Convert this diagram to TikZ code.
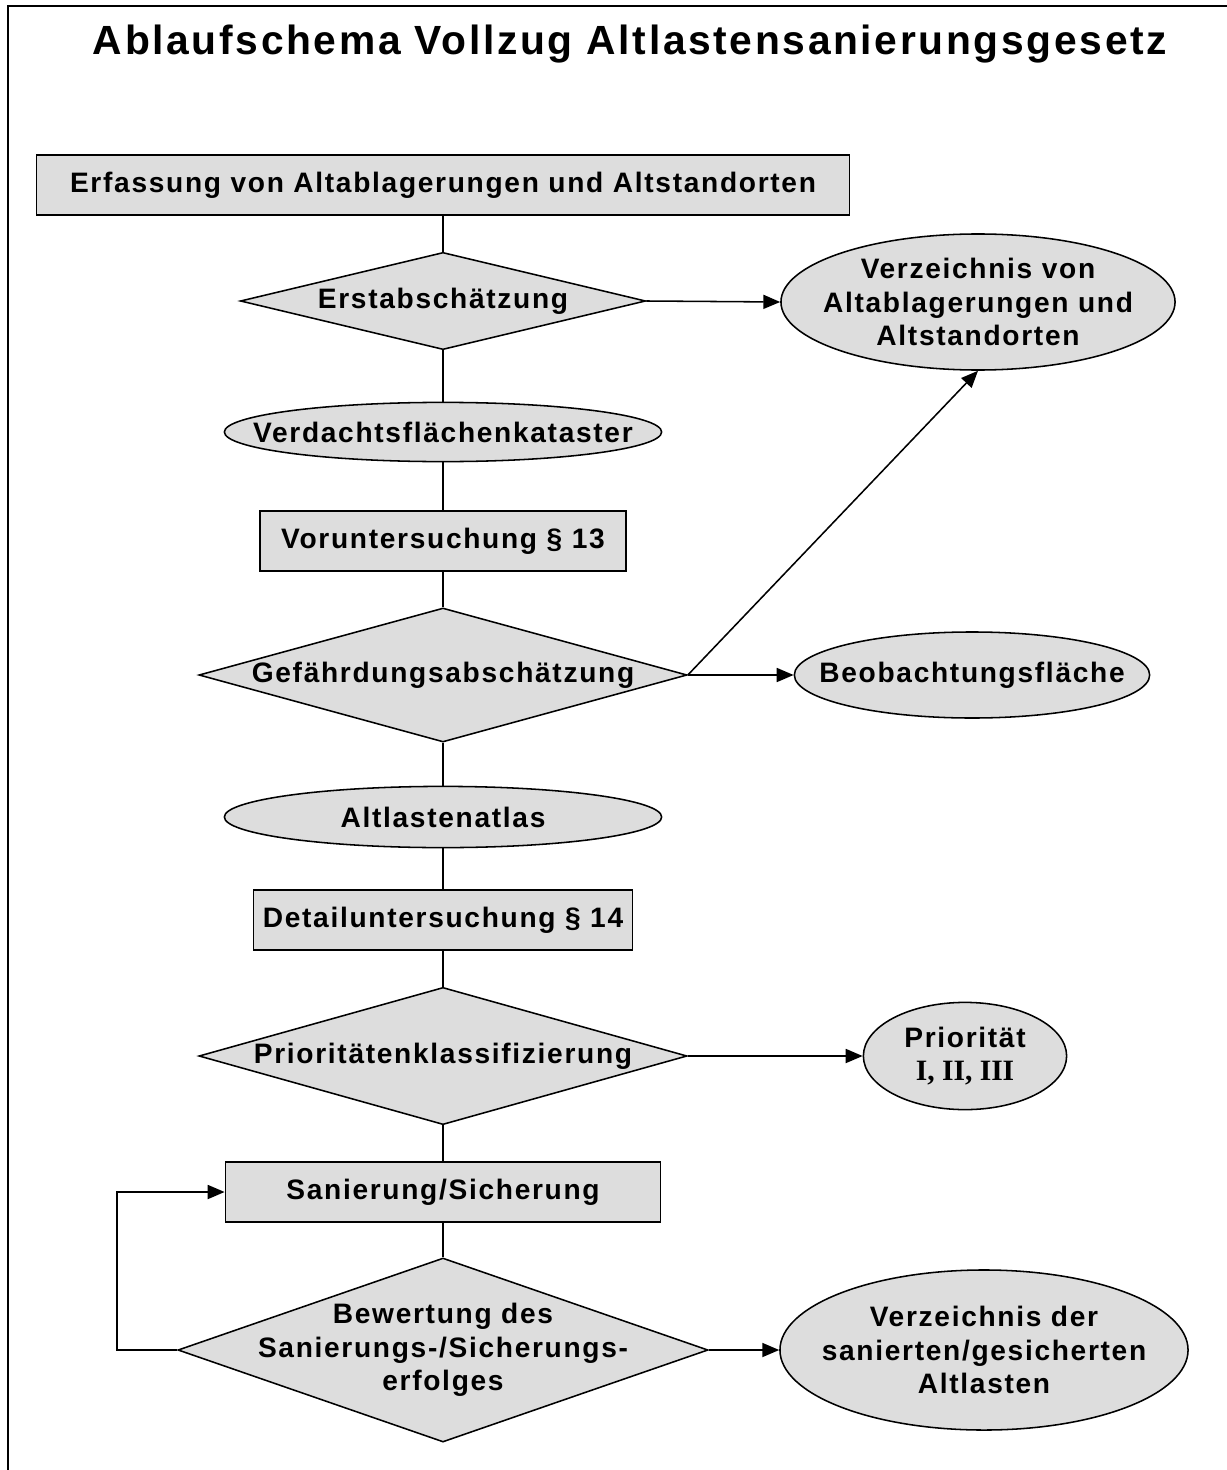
\documentclass[tikz,border=0pt]{standalone}
\usepackage{fontspec}
\setmainfont{Liberation Sans}
\newfontfamily\labelfont[LetterSpace=6]{Liberation Sans}
\newfontfamily\titlefont[LetterSpace=6.5]{Liberation Sans}
\newfontfamily\romanfont{Liberation Serif}
\usetikzlibrary{shapes.geometric,arrows.meta}
\definecolor{shapegrey}{RGB}{221,221,221}

\begin{document}
\begin{tikzpicture}[x=0.025cm, y=-0.025cm,
    every node/.style={font=\labelfont\bfseries\fontsize{20}{23.8}\selectfont, align=center},
    box/.style={rectangle, draw, line width=1.1pt, fill=shapegrey, minimum height=1.5cm},
    oval/.style={ellipse, draw, line width=1.1pt, fill=shapegrey, inner sep=-30pt},
    decision/.style={diamond, draw, line width=1.1pt, fill=shapegrey, inner sep=-30pt, aspect=3.6},
    link/.style={line width=1.1pt},
    arr/.style={-{Triangle[length=12pt, width=10pt]}, line width=1.1pt}
]
    \useasboundingbox (0,0) rectangle (1226,1470);
    \draw[line width=2pt] (8,1480) -- (8,6) -- (1236,6);

    \node[font=\titlefont\bfseries\fontsize{29}{32}\selectfont] (title) at (630,44)
        {Ablaufschema Vollzug Altlastensanierungsgesetz};

    % main column
    \node[box, minimum width=20.33cm] (erfassung) at (443,185) {Erfassung von Altablagerungen und Altstandorten};
    \node[decision, minimum width=10.13cm, minimum height=2.43cm] (erstab) at (443,301) {Erstabschätzung};
    \node[oval, minimum width=10.93cm, minimum height=1.48cm] (verdacht) at (443,432) {Verdachtsflächenkataster};
    \node[box, minimum width=9.15cm] (vorunt) at (443,541) {Voruntersuchung § 13};
    \node[decision, minimum width=12.2cm, minimum height=3.35cm] (gefahr) at (443,675) {Gefährdungsabschätzung};
    \node[oval, minimum width=10.93cm, minimum height=1.53cm] (atlas) at (443,817) {Altlastenatlas};
    \node[box, minimum width=9.48cm] (detail) at (443,920) {Detailuntersuchung § 14};
    \node[decision, minimum width=12.2cm, minimum height=3.43cm] (prio) at (443,1056) {Prioritätenklassifizierung};
    \node[box, minimum width=10.88cm] (sanierung) at (443,1192) {Sanierung/Sicherung};
    \node[decision, aspect=2.9, minimum width=13.25cm, minimum height=4.6cm] (bewertung) at (443,1350)
        {Bewertung des\\Sanierungs-/Sicherungs-\\erfolges};

    % results on the right
    \node[oval, minimum width=9.85cm, minimum height=3.4cm] (verzeichnis) at (978,302)
        {Verzeichnis von\\Altablagerungen und\\Altstandorten};
    \node[oval, minimum width=8.88cm, minimum height=2.15cm] (beobacht) at (972,675) {Beobachtungsfläche};
    \node[oval, minimum width=5.08cm, minimum height=2.68cm] (prioklasse) at (965,1056)
        {Priorität\\{\romanfont\bfseries\fontsize{21}{25}\selectfont I, II, III}};
    \node[oval, minimum width=10.2cm, minimum height=4cm] (verzsaniert) at (984,1350)
        {Verzeichnis der\\sanierten/gesicherten\\Altlasten};

    \foreach \from/\to in {erfassung/erstab, erstab/verdacht, verdacht/vorunt, vorunt/gefahr,
        gefahr/atlas, atlas/detail, detail/prio, prio/sanierung, sanierung/bewertung}
        \draw[link] (\from) -- (\to);

    \draw[arr] (erstab.east) -- (verzeichnis.west);
    \draw[arr] (gefahr.east) -- (beobacht.west);
    \draw[arr] (gefahr.east) -- (verzeichnis.south);
    \draw[arr] (prio.east) -- (prioklasse.west);
    \draw[arr] (bewertung.east) -- (verzsaniert.west);
    \draw[arr] (bewertung.west) -- ++(-60,0) |- (sanierung.west);
\end{tikzpicture}
\end{document}
